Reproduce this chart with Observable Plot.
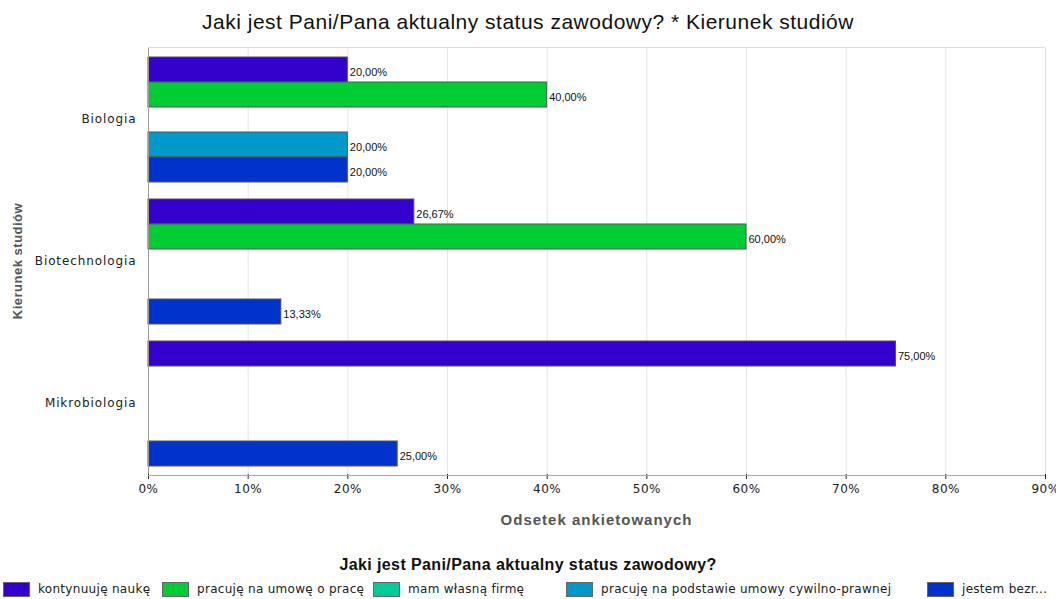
<!DOCTYPE html>
<html>
<head>
<meta charset="utf-8">
<script src="https://cdn.jsdelivr.net/npm/d3@7"></script>
<script src="https://cdn.jsdelivr.net/npm/@observablehq/plot@0.6"></script>
<style>
  body { margin: 0; background: #fff; width: 1056px; overflow: hidden; }
  #title { height: 40px; box-sizing: border-box; padding-top: 11px; text-align: center;
    font-family: "Liberation Sans", Arial, sans-serif; font-size: 21px; letter-spacing: 0.5px; line-height: 22px; color: #111; }
  #chart svg { display: block; }
  #legend-title { margin-top: 26px; text-align: center; font-family: "Liberation Sans", Arial, sans-serif;
    font-weight: bold; font-size: 16px; letter-spacing: 0.4px; line-height: 18px; color: #111; }
  #legend { position: relative; height: 20px; margin-top: 5px; overflow: hidden;
    font-family: "DejaVu Sans", sans-serif; font-size: 12px; letter-spacing: 0.3px; color: #222; white-space: nowrap; }
  .item { position: absolute; top: 0; display: flex; align-items: center; height: 20px; }
  .sw { width: 25px; height: 13px; border: 1px solid #666; margin-right: 8px; }
</style>
</head>
<body>
<div id="title">Jaki jest Pani/Pana aktualny status zawodowy? * Kierunek studiów</div>
<div id="chart"></div>
<div id="legend-title">Jaki jest Pani/Pana aktualny status zawodowy?</div>
<div id="legend"></div>
<script>
const categories = ["Biologia", "Biotechnologia", "Mikrobiologia"];
const statuses = [
  "kontynuuję naukę",
  "pracuję na umowę o pracę",
  "mam własną firmę",
  "pracuję na podstawie umowy cywilno-prawnej",
  "jestem bezr..."
];
const colors = ["#3300cc", "#00cc33", "#00cc99", "#0099cc", "#0033cc"];
const biologia = [20, 40, 0, 20, 20];
const biotechnologia = [26.67, 60, 0, 0, 13.33];
const mikrobiologia = [75, 0, 0, 0, 25];
const xTicks = [0, 10, 20, 30, 40, 50, 60, 70, 80, 90];

const seriesByCategory = [biologia, biotechnologia, mikrobiologia];
const data = [];
categories.forEach((c, i) => {
  seriesByCategory[i].forEach((v, j) => {
    if (v > 0) data.push({category: c, status: statuses[j], value: v});
  });
});
const fmt = v => v.toFixed(2).replace(".", ",") + "%";

const chart = Plot.plot({
  width: 1056,
  height: 490,
  marginLeft: 148,
  marginRight: 11,
  marginTop: 7,
  marginBottom: 55,
  style: {fontFamily: "DejaVu Sans, sans-serif", fontSize: "12px", color: "#222", background: "#fff", overflow: "visible"},
  x: {domain: [0, 90], ticks: xTicks, tickFormat: d => d + "%", label: null, tickSize: 5, tickPadding: 5},
  y: {domain: statuses, paddingInner: 0, paddingOuter: 0.265, axis: null},
  fy: {domain: categories, padding: 0, label: null, axis: "left", tickSize: 0, tickPadding: 12},
  color: {domain: statuses, range: colors},
  marks: [
    Plot.ruleX(xTicks.slice(1, -1), {stroke: "#e6e6e6", strokeWidth: 1}),
    Plot.ruleX([90], {stroke: "#dcdcdc"}),
    Plot.barX(data, {x: "value", y: "status", fy: "category", fill: "status", stroke: "#555", strokeWidth: 1}),
    Plot.text(data, {x: "value", y: "status", fy: "category", text: d => fmt(d.value),
      textAnchor: "start", dx: 2, dy: 2, fontFamily: "Liberation Sans, Arial, sans-serif", fontSize: 11, fill: "#111"}),
    Plot.ruleX([0], {stroke: "#999"})
  ]
});

const svg = d3.select(chart);
svg.selectAll("g[aria-label='fy-axis tick label'] text").attr("letter-spacing", "0.9px");
svg.selectAll("g[aria-label='x-axis tick label'] text").attr("letter-spacing", "0.5px");
const [x0, x1] = chart.scale("x").range;
const [y0, y1] = chart.scale("fy").range;
svg.append("line").attr("x1", x0).attr("x2", x1).attr("y1", y0 + 0.5).attr("y2", y0 + 0.5).attr("stroke", "#dcdcdc");
svg.append("line").attr("x1", x0).attr("x2", x1).attr("y1", y1 + 0.5).attr("y2", y1 + 0.5).attr("stroke", "#aaa");
svg.selectAll("g[aria-label='x-axis tick']").attr("stroke", "#aaa");
svg.append("text").attr("x", (x0 + x1) / 2).attr("y", y1 + 50).attr("text-anchor", "middle")
  .attr("font-family", "Liberation Sans, Arial, sans-serif").attr("font-weight", "bold")
  .attr("font-size", 15).attr("letter-spacing", "1px").attr("fill", "#555").text("Odsetek ankietowanych");
svg.append("text").attr("transform", `translate(22,${(y0 + y1) / 2}) rotate(-90)`).attr("text-anchor", "middle")
  .attr("font-family", "Liberation Sans, Arial, sans-serif").attr("font-weight", "bold")
  .attr("font-size", 13).attr("letter-spacing", "0.5px").attr("fill", "#555").text("Kierunek studiów");

document.getElementById("chart").appendChild(chart);

// legend layout (swatch left edges in px)
const legendLeft = [3, 162, 373, 566, 927];
const legend = document.getElementById("legend");
statuses.forEach((s, i) => {
  const item = document.createElement("div");
  item.className = "item";
  item.style.left = legendLeft[i] + "px";
  const sw = document.createElement("div");
  sw.className = "sw";
  sw.style.background = colors[i];
  const t = document.createElement("span");
  t.textContent = s;
  item.appendChild(sw);
  item.appendChild(t);
  legend.appendChild(item);
});
</script>
</body>
</html>
